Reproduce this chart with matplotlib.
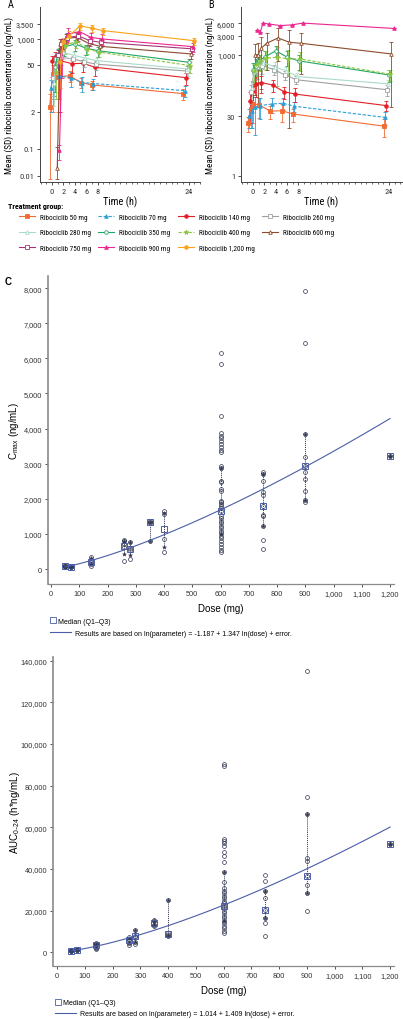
import numpy as np
import matplotlib
matplotlib.use("Agg")
import matplotlib.pyplot as plt
from matplotlib.lines import Line2D
from matplotlib import font_manager as fm

W, H = 403, 1020

# ---------------- A / B : mean (SD) concentration-time profiles ----------------
dose_labels = ["50", "70", "140", "260", "280", "350", "400", "600", "750", "900", "1,200"]
colors = ["#F26B35", "#2A9FD6", "#E41E26", "#A0A0A0", "#A9DBC9", "#23A566",
          "#8DC63F", "#8B4B2C", "#A3367A", "#EC268F", "#F8A31B"]
markers = ["s", "^", "o", "s", "^", "o", "*", "^", "s", "^", "o"]
filled = [True, True, True, False, False, False, True, False, False, True, True]
dashes = [None, (3, 1.5), None, None, None, None, (3, 1.5), None, None, None, None]

times_a = [0.5, 1, 2, 4, 6, 8, 24]
times_b = [0, 0.5, 1, 2, 4, 6, 8, 24]

# panel A (day 1)
mean_a_50 = [2.9, 27, 22, 24, 15, 12.7, 7]
sd_a_50 = [4, 25, 20, 8, 5, 4, 2.5]
mean_a_70 = [10, 21, 23, 21, 15, 14, 8.6]
sd_a_70 = [8, 15, 18, 10, 7, 5, 3]
mean_a_140 = [82, 120, 82, 58, 60, 43, 21]
sd_a_140 = [60, 90, 80, 30, 30, 20, 8]
mean_a_260 = [20, 100, 120, 100, 73, 55, 33]
sd_a_260 = [15, 60, 70, 40, 30, 20, 12]
mean_a_280 = [15, 120, 220, 150, 110, 82, 38]
sd_a_280 = [12, 80, 120, 60, 40, 30, 14]
mean_a_350 = [43, 180, 390, 560, 340, 260, 68]
sd_a_350 = [35, 150, 250, 300, 180, 140, 30]
mean_a_400 = [30, 200, 470, 740, 320, 220, 48]
sd_a_400 = [25, 150, 300, 400, 150, 100, 20]
mean_a_600 = [0.02, 560, 1050, 1150, 600, 430, 178]
sd_a_600 = [0.1, 400, 500, 450, 300, 200, 80]
mean_a_750 = [150, 550, 1100, 1300, 820, 680, 320]
sd_a_750 = [120, 400, 500, 500, 350, 300, 150]
mean_a_900 = [0.09, 400, 1500, 1850, 1150, 1000, 410]
sd_a_900 = [0.05, 380, 900, 800, 500, 500, 200]
mean_a_1200 = [70, 680, 1320, 3000, 2450, 2000, 820]
sd_a_1200 = [60, 400, 700, 900, 700, 600, 300]

# panel B (steady state)
mean_b_50 = [20, 45, 60, 57, 40, 41, 34, 17]
sd_b_50 = [8, 30, 40, 30, 15, 20, 12, 8]
mean_b_70 = [30, 40, 50, 55, 60, 63, 53, 28]
sd_b_70 = [15, 25, 40, 30, 25, 20, 15, 10]
mean_b_140 = [70, 130, 190, 205, 178, 121, 106, 55]
sd_b_140 = [50, 80, 100, 90, 60, 40, 40, 15]
mean_b_260 = [120, 370, 500, 540, 430, 315, 240, 136]
sd_b_260 = [60, 200, 250, 200, 120, 80, 50, 40]
mean_b_280 = [150, 420, 580, 640, 500, 400, 290, 190]
sd_b_280 = [80, 200, 250, 200, 150, 100, 60, 50]
mean_b_350 = [420, 540, 710, 870, 1260, 870, 710, 315]
sd_b_350 = [200, 250, 300, 350, 400, 350, 300, 100]
mean_b_400 = [400, 600, 700, 820, 870, 790, 790, 330]
sd_b_400 = [200, 300, 300, 400, 700, 500, 400, 100]
mean_b_600 = [1000, 1000, 1440, 1930, 2610, 2040, 1930, 1050]
sd_b_600 = [900, 950, 1300, 1500, 1900, 2025, 1600, 1000]
mean_b_900 = [4200, 3750, 6100, 5800, 5300, 5500, 6100, 4500]
sd_b_900 = [0, 0, 0, 0, 0, 0, 0, 0]

means_a = [mean_a_50, mean_a_70, mean_a_140, mean_a_260, mean_a_280, mean_a_350,
           mean_a_400, mean_a_600, mean_a_750, mean_a_900, mean_a_1200]
sds_a = [sd_a_50, sd_a_70, sd_a_140, sd_a_260, sd_a_280, sd_a_350,
         sd_a_400, sd_a_600, sd_a_750, sd_a_900, sd_a_1200]
means_b = [mean_b_50, mean_b_70, mean_b_140, mean_b_260, mean_b_280, mean_b_350,
           mean_b_400, mean_b_600, None, mean_b_900, None]
sds_b = [sd_b_50, sd_b_70, sd_b_140, sd_b_260, sd_b_280, sd_b_350,
         sd_b_400, sd_b_600, None, sd_b_900, None]

# ---------------- C / D : individual Cmax and AUC by dose ----------------
doses = [50, 70, 140, 260, 280, 350, 400, 600, 750, 900, 1200]

cmax_50 = [55, 75, 95, 110]
cmax_70 = [45, 65, 85]
cmax_140 = [100, 140, 200, 260, 340]
cmax_260 = [230, 620, 700, 800, 830]
cmax_280 = [290, 540, 600, 770]
cmax_350 = [800, 1320, 1340, 1360]
cmax_400 = [480, 850, 1580, 1650]
cmax_600 = [6150, 5850, 4350, 3875, 3800, 3725, 3640, 3560, 3475, 3400, 3325, 2925,
            2870, 2515, 2470, 2280, 2220, 1945, 1900, 1850, 1805, 1740, 1660, 1520,
            1455, 1375, 1310, 1235, 1170, 1090, 1025, 950, 875, 805, 710, 615, 550, 495]
cmax_750 = [2755, 2700, 2515, 2185, 2115, 1785, 1540, 1500, 1235, 825, 570]
cmax_900 = [7930, 6440, 3840, 3180, 2940, 2750, 2560, 2230, 1970, 1920]
cmax_1200 = [3230]
cmax_median = [80, 70, 200, 650, 560, 1330, 1130, 1650, 1790, 2940, 3230]
cmax_q1 = [60, 55, 140, 420, 400, 800, 630, 1000, 1230, 1970, 3230]
cmax_q3 = [100, 85, 300, 800, 770, 1350, 1600, 2870, 2700, 3840, 3230]
cmax_coef = (-1.187, 1.347)

auc_50 = [600, 800, 1000]
auc_70 = [900, 1200, 1500]
auc_140 = [1800, 2000, 3300, 3800, 4400]
auc_260 = [3500, 4500, 6000, 6500, 7200]
auc_280 = [4200, 5000, 7500, 8000, 10500]
auc_350 = [12500, 13000, 15000, 15500]
auc_400 = [7700, 8500, 9500, 25000]
auc_600 = [90400, 89600, 54400, 53300, 52300, 51200, 48300, 46400, 43200, 38700,
           33600, 30900, 29600, 28500, 27200, 26100, 24800, 23700, 22400, 21300,
           20000, 18900, 17600, 16300, 15200, 13900, 12800, 11500, 10400, 9300]
auc_750 = [37100, 34400, 29600, 26100, 20500, 16300, 13900, 8000]
auc_900 = [135200, 74700, 66400, 45100, 44000, 36800, 32300, 28500, 20000]
auc_1200 = [52000]
auc_median = [800, 1200, 3500, 6000, 7700, 14000, 8800, 22400, 20500, 36800, 52000]
auc_q1 = [600, 900, 2000, 4500, 5000, 13000, 8000, 15000, 16300, 28500, 52000]
auc_q3 = [1000, 1500, 4000, 7000, 10500, 15200, 25000, 38700, 29600, 66400, 52000]
auc_coef = (1.014, 1.409)

cmax_pts = [cmax_50, cmax_70, cmax_140, cmax_260, cmax_280, cmax_350, cmax_400,
            cmax_600, cmax_750, cmax_900, cmax_1200]
auc_pts = [auc_50, auc_70, auc_140, auc_260, auc_280, auc_350, auc_400,
           auc_600, auc_750, auc_900, auc_1200]

plt.rcParams["font.family"] = ["Liberation Sans", "DejaVu Sans"]
plt.rcParams["axes.linewidth"] = 0.7

# top panels use a narrow face, if one is installed
NARROW = {"family": ["Liberation Sans", "DejaVu Sans"], "stretch": "normal"}
nscale = 0.8
wanted = ["Liberation Sans Narrow", "Arial Narrow", "Roboto Condensed",
          "Open Sans Condensed", "Noto Sans", "Open Sans", "DejaVu Sans"]
found = {}
for f in fm.fontManager.ttflist:
    if f.style != "normal":
        continue
    narrow_name = f.name in wanted[:4]
    condensed = f.stretch in ("condensed", "semi-condensed", 500, 300, 400) and \
        str(f.stretch) != "normal" and f.name in wanted[4:]
    if narrow_name or condensed:
        found.setdefault(f.name, f.stretch)
for name in wanted:
    if name in found:
        NARROW = {"family": [name, "DejaVu Sans"],
                  "stretch": "normal" if name in wanted[:4] else "condensed"}
        nscale = 1.0
        break

fig = plt.figure(figsize=(W / 100, H / 100), dpi=100)


def rect(left, top, right, bottom):
    return [left / W, 1 - bottom / H, (right - left) / W, (bottom - top) / H]


def fmt(v):
    return f"{v:,.0f}" if v >= 1 else f"{v:g}"


def nfont(size, **kw):
    d = {"fontfamily": NARROW["family"], "fontstretch": NARROW["stretch"],
         "fontsize": size * nscale}
    d.update(kw)
    return d


# uneven log axis of panel A (tick spacing as printed)
tick_a = [0.01, 0.1, 2, 50, 1000, 3500]
pos_a = [0, 27, 64, 111, 137, 152]
lv = np.log10([1e-6] + tick_a + [1e8])
pp = np.array([-4 * 27.3] + pos_a + [152 + (8 - np.log10(3500)) * 27.6])


def fwd(v):
    return np.interp(np.log10(np.maximum(v, 1e-12)), lv, pp)


def inv(p):
    return 10 ** np.interp(p, pp, lv)


offsets = np.linspace(-0.9, 1.0, 11)


def profile_panel(ax, times, means, sds, floor):
    for i in range(11):
        if means[i] is None:
            continue
        m = np.array(means[i], float)
        s = np.array(sds[i], float)
        lo = m - np.maximum(m - s, floor)
        t = np.array(times) + offsets[i]
        c = colors[i]
        eb = ax.errorbar(t, m, yerr=[lo, s], color=c, lw=0.8, elinewidth=0.6,
                         capsize=1.2, capthick=0.6, marker=markers[i],
                         ms=3.5 if markers[i] == "*" else 2.6,
                         mfc=c if filled[i] else "white", mec=c, mew=0.6)
        if dashes[i]:
            eb[0].set_dashes(dashes[i])
    for sp in ["top", "right"]:
        ax.spines[sp].set_visible(False)
    for sp in ["left", "bottom"]:
        ax.spines[sp].set_color("#444444")
    ax.set_xticks([0, 2, 4, 6, 8, 24], ["0", "2", "4", "6", "8", "24"], **nfont(6))
    ax.tick_params(axis="both", which="major", length=2.5, width=0.6, pad=1.5,
                   colors="#333333")
    ax.set_xlabel("Time (h)", labelpad=1, **nfont(7.5))
    ax.xaxis.set_label_coords(0.5, -0.075)
    ax.set_ylabel("Mean (SD) ribociclib concentration (ng/mL)", **nfont(6.6))
    ax.yaxis.set_label_coords(-0.163, 0.5)


# panel A
axA = fig.add_axes(rect(40, 8, 200, 183))
axA.set_yscale("function", functions=(fwd, inv))
profile_panel(axA, times_a, means_a, sds_a, 0.008)
axA.set_xlim(-2.1, 26.0)
axA.set_ylim(0.006, 14400)
axA.set_yticks(tick_a, [fmt(v) for v in tick_a], **nfont(6))
axA.minorticks_off()

# panel B
axB = fig.add_axes(rect(241, 8, 402, 183))
axB.set_yscale("log")
profile_panel(axB, times_b, means_b, sds_b, 0.8)
axB.set_xlim(-2.1, 26.3)
axB.set_ylim(0.70, 15300)
tick_b = [1, 30, 1000, 3000, 6000]
axB.set_yticks(tick_b, [fmt(v) for v in tick_b], **nfont(6))
axB.yaxis.set_minor_locator(matplotlib.ticker.NullLocator())

for ax in (axA, axB):
    ax.set_xticks(range(-2, 27), minor=True)
    ax.tick_params(axis="x", which="minor", length=1.5, width=0.5, colors="#333333")

fig.text(8 / W, 1 - 5 / H, "A", va="center", **nfont(7.5))
fig.text(208 / W, 1 - 5 / H, "B", va="center", **nfont(7.5))

# treatment group legend (row-major order)
handles = []
for i in range(11):
    h = Line2D([], [], color=colors[i], lw=0.8, marker=markers[i],
               ms=3.5 if markers[i] == "*" else 2.6,
               mfc=colors[i] if filled[i] else "white", mec=colors[i], mew=0.6)
    if dashes[i]:
        h.set_dashes(dashes[i])
    handles.append(h)
labels = [f"Ribociclib {d} mg" for d in dose_labels]
order = [0, 4, 8, 1, 5, 9, 2, 6, 10, 3, 7]
fig.text(8 / W, 1 - 207 / H, "Treatment group:", va="center",
         **nfont(5.8, fontweight="bold"))
fig.legend([handles[k] for k in order], [labels[k] for k in order],
           loc="upper left", bbox_to_anchor=(19 / W, 1 - 214.5 / H), ncol=4,
           frameon=False,
           prop={"family": NARROW["family"], "stretch": NARROW["stretch"],
                 "size": 5.2 * nscale},
           handlelength=2.2, handletextpad=0.7, columnspacing=1.0,
           labelspacing=1.2, borderpad=0, borderaxespad=0)

# ---------------- scatter panels ----------------
navy = "#2E3350"
blue = "#4A5DA8"


def dose_panel(ax, pts, med, q1, q3, coef, ylab):
    for d, v in zip(doses, pts):
        ax.plot(np.full(len(v), d), v, ls="none", marker="o", ms=2.8, mfc="none",
                mec=navy, mew=0.5, zorder=3)
    ax.vlines(doses, q1, q3, colors=navy, linestyles=(0, (1, 1)), lw=0.7, zorder=2)
    ax.plot(doses, q1, ls="none", marker="*", ms=3, color=navy, mew=0.3, zorder=4)
    ax.plot(doses, q3, ls="none", marker="*", ms=3, color=navy, mew=0.3, zorder=4)
    ax.plot(doses, med, ls="none", marker="s", ms=4.5, mfc="none", mec=blue,
            mew=0.7, zorder=5)
    grid = np.linspace(doses[0], doses[-1], 200)
    ax.plot(grid, np.exp(coef[0] + coef[1] * np.log(grid)), color=blue, lw=0.8,
            zorder=4)
    for sp in ["top", "right"]:
        ax.spines[sp].set_visible(False)
    ax.spines["left"].set_color("#8a8a8a")
    ax.spines["left"].set_linewidth(1.2)
    ax.spines["bottom"].set_color("#8a8a8a")
    ax.spines["bottom"].set_linewidth(0.9)
    ax.set_xticks(range(0, 1201, 100), [fmt(v) for v in range(0, 1201, 100)])
    ax.tick_params(labelsize=5.3, length=2.5, width=0.6, pad=2, colors="#333333")
    ax.yaxis.set_major_formatter(matplotlib.ticker.FuncFormatter(lambda v, p: fmt(v)))
    ax.set_xlabel("Dose (mg)", fontsize=7, labelpad=4)
    ax.set_ylabel(ylab, fontsize=7)


axC = fig.add_axes(rect(48.3, 277, 394, 585))
dose_panel(axC, cmax_pts, cmax_median, cmax_q1, cmax_q3, cmax_coef,
           r"C$_{\mathregular{max}}$ (ng/mL)")
axC.set_xlim(-9.6, 1214)
axC.set_ylim(-427, 8347)
axC.set_yticks(range(0, 8001, 1000))
axC.yaxis.set_label_coords(-0.079, 0.5)
fig.text(5 / W, 1 - 282 / H, "C", fontsize=7, fontweight="bold", va="center")

axD = fig.add_axes(rect(53.3, 658, 394, 966.7))
dose_panel(axD, auc_pts, auc_median, auc_q1, auc_q3, auc_coef,
           "AUC$_{\\mathregular{0\u201324}}$ (h*ng/mL)")
axD.set_xlim(-14.4, 1214)
axD.set_ylim(-6430, 141700)
axD.set_yticks(range(0, 140001, 20000))
axD.yaxis.set_label_coords(-0.092, 0.5)


def dose_legend(ax, x, y1, y2, text):
    l1 = ax.legend([Line2D([], [], ls="none", marker="s", ms=4, mfc="none", mec=blue,
                           mew=0.6)], ["Median (Q1\u2013Q3)"], loc="center left",
                   bbox_to_anchor=(x / W, 1 - y1 / H), bbox_transform=fig.transFigure,
                   frameon=False, fontsize=5, handlelength=0.8, handletextpad=0.4,
                   borderpad=0, borderaxespad=0)
    ax.add_artist(l1)
    ax.legend([Line2D([], [], color=blue, lw=0.8)], [text], loc="center left",
              bbox_to_anchor=(x / W, 1 - y2 / H), bbox_transform=fig.transFigure,
              frameon=False, fontsize=5, handlelength=3.0, handletextpad=0.55,
              borderpad=0, borderaxespad=0)


dose_legend(axC, 50, 622, 634,
            "Results are based on ln(parameter) = -1.187 + 1.347 ln(dose) + error.")
dose_legend(axD, 55, 1004, 1015,
            "Results are based on ln(parameter) = 1.014 + 1.409 ln(dose) + error.")

fig.savefig("out.png", dpi=100)
